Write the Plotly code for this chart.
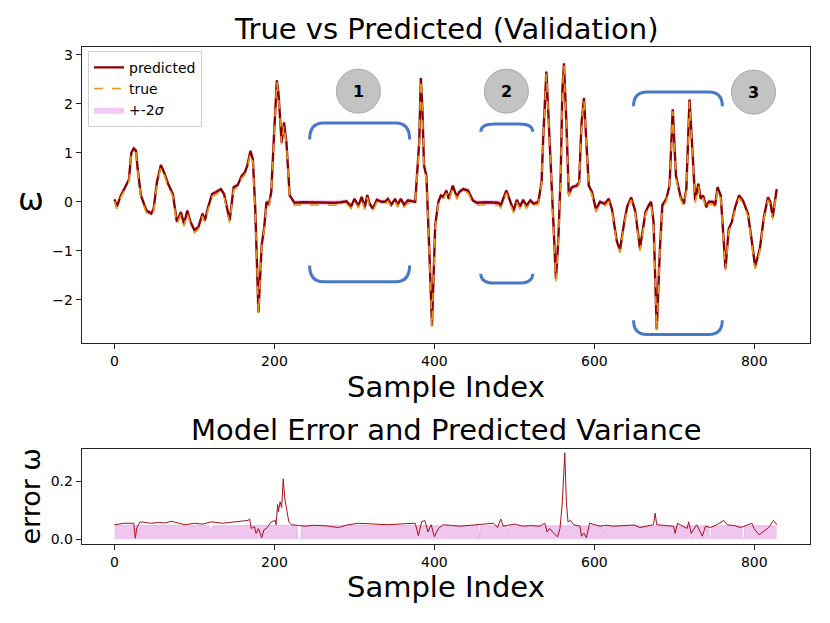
import plotly.graph_objects as go

# ---- data ----
# top panel: predicted / true angular rate vs sample index
S_PRED = [0, 3, 8, 15, 18, 21, 24, 27, 29, 33,
          40, 46, 49, 53, 58, 62, 67, 73, 78, 83,
          87, 91, 95, 100, 105, 110, 113, 117, 122, 127,
          133, 137, 144, 149, 154, 159, 163, 166, 170, 173,
          176, 180, 184, 187, 190, 193, 196, 199, 203, 205,
          209, 212, 215, 219, 225, 235, 260, 270, 276, 283,
          290, 296, 300, 305, 309, 313, 316, 319, 323, 328,
          334, 338, 342, 346, 351, 354, 358, 362, 367, 376,
          379, 381, 383, 385, 387, 390, 394, 397, 401, 405,
          408, 411, 415, 418, 423, 428, 431, 436, 442, 448,
          453, 465, 480, 483, 490, 495, 499, 503, 507, 511,
          515, 520, 524, 530, 534, 536, 540, 543, 547, 549,
          552, 555, 558, 560, 562, 565, 568, 572, 578, 581,
          584, 587, 590, 593, 597, 602, 607, 613, 618, 622,
          628, 632, 637, 641, 646, 651, 657, 664, 668, 671,
          674, 678, 682, 685, 690, 694, 698, 702, 708, 712,
          715, 719, 723, 726, 730, 733, 736, 740, 743, 748,
          751, 754, 758, 764, 768, 772, 776, 781, 786, 792,
          797, 801, 807, 812, 817, 820, 823, 826, 828]

W_PRED = [0.05, -0.10, 0.13, 0.37, 0.45, 1.00, 1.09, 1.04, 0.67, 0.13,
          -0.18, -0.24, -0.14, 0.40, 0.75, 0.60, 0.37, 0.16, -0.41, -0.21,
          -0.45, -0.18, -0.41, -0.58, -0.51, -0.24, -0.38, -0.11, 0.16, 0.20,
          0.26, 0.16, -0.38, 0.30, 0.34, 0.53, 0.60, 0.74, 1.04, 0.87,
          -0.14, -2.26, -0.89, -0.55, 0.00, -0.06, 0.20, 1.21, 2.48, 2.22,
          1.21, 1.62, 1.21, 0.13, -0.02, -0.01, -0.02, -0.01, -0.02, -0.01,
          0.01, -0.09, 0.06, -0.08, 0.10, -0.11, 0.14, -0.04, -0.14, 0.04,
          0.00, 0.00, 0.06, -0.06, 0.06, -0.06, 0.06, -0.06, 0.03, 0.00,
          0.67, 1.21, 2.53, 1.89, 0.74, 0.53, -1.16, -2.53, -0.48, 0.00,
          0.13, 0.10, 0.23, 0.06, 0.33, 0.10, 0.20, 0.26, 0.23, 0.03,
          -0.02, -0.01, -0.02, -0.07, 0.23, 0.00, -0.18, 0.04, -0.10, 0.04,
          -0.08, 0.03, -0.04, 0.00, 0.40, 1.28, 2.66, 1.62, 0.26, -0.68,
          -1.58, -0.75, 0.60, 2.29, 2.83, 1.62, 0.16, 0.30, 0.33, 0.40,
          1.62, 2.12, 1.28, 0.33, 0.20, -0.16, 0.00, -0.04, 0.06, -0.15,
          -0.80, -0.99, -0.45, -0.10, 0.09, -0.18, -0.95, -0.21, -0.07, 0.00,
          -0.41, -2.60, -0.95, -0.07, 0.06, 0.33, 1.89, 0.53, 0.09, -0.04,
          0.26, 2.09, 0.94, 0.03, 0.37, 0.06, 0.13, -0.11, 0.00, 0.00,
          -0.07, 0.30, 0.13, -1.36, -0.55, -0.41, -0.11, 0.13, 0.02, -0.24,
          -0.82, -1.32, -0.95, -0.31, 0.09, 0.00, -0.31, 0.00, 0.26]

W_TRUE = [0.01, -0.14, 0.09, 0.33, 0.41, 0.97, 1.05, 1.00, 0.62, 0.08,
          -0.23, -0.29, -0.19, 0.35, 0.71, 0.56, 0.32, 0.11, -0.46, -0.26,
          -0.50, -0.23, -0.46, -0.63, -0.56, -0.29, -0.43, -0.16, 0.11, 0.15,
          0.21, 0.11, -0.43, 0.25, 0.29, 0.48, 0.55, 0.69, 0.99, 0.82,
          -0.19, -2.30, -0.93, -0.60, -0.05, -0.11, 0.15, 1.17, 2.46, 2.18,
          1.17, 1.57, 1.16, 0.08, -0.07, -0.06, -0.07, -0.06, -0.07, -0.06,
          -0.04, -0.14, 0.01, -0.13, 0.05, -0.16, 0.09, -0.09, -0.19, -0.01,
          -0.05, -0.05, 0.01, -0.11, 0.01, -0.11, 0.01, -0.11, -0.02, -0.05,
          0.62, 1.17, 2.50, 1.85, 0.70, 0.48, -1.20, -2.57, -0.53, -0.05,
          0.08, 0.05, 0.18, 0.01, 0.28, 0.05, 0.15, 0.21, 0.18, -0.02,
          -0.07, -0.06, -0.07, -0.12, 0.18, -0.05, -0.23, -0.01, -0.15, -0.01,
          -0.13, -0.02, -0.09, -0.05, 0.35, 1.24, 2.62, 1.58, 0.21, -0.72,
          -1.62, -0.80, 0.55, 2.25, 2.78, 1.58, 0.11, 0.25, 0.28, 0.35,
          1.58, 2.08, 1.24, 0.28, 0.15, -0.21, -0.05, -0.09, 0.01, -0.20,
          -0.85, -1.04, -0.50, -0.15, 0.04, -0.23, -1.00, -0.26, -0.12, -0.05,
          -0.46, -2.64, -1.00, -0.12, 0.01, 0.28, 1.85, 0.48, 0.04, -0.09,
          0.21, 2.05, 0.90, -0.02, 0.32, 0.01, 0.08, -0.16, -0.05, -0.05,
          -0.12, 0.25, 0.08, -1.40, -0.60, -0.46, -0.16, 0.08, -0.03, -0.29,
          -0.87, -1.37, -1.00, -0.36, 0.04, -0.05, -0.36, -0.05, 0.21]

TWO_SIGMA = 0.05  # half-width of the +-2sigma band around the prediction

# bottom panel: model error and predicted variance
S_ERR = [0, 12, 24, 26, 28, 32, 46, 55, 63, 71,
         88, 100, 110, 121, 135, 145, 154, 167, 169, 171,
         175, 177, 180, 184, 187, 190, 196, 201, 202, 204,
         205, 207, 209, 211, 213, 215, 218, 221, 238, 250,
         265, 280, 292, 305, 320, 330, 342, 360, 376, 380,
         384, 388, 392, 396, 400, 405, 411, 420, 432, 445,
         457, 474, 479, 483, 486, 495, 500, 511, 520, 532,
         538, 541, 544, 551, 554, 557, 560, 563, 565, 567,
         570, 574, 582, 584, 587, 590, 594, 607, 615, 624,
         640, 650, 657, 674, 676, 678, 690, 699, 701, 704,
         716, 718, 721, 728, 735, 739, 745, 752, 762, 766,
         775, 783, 797, 800, 806, 811, 818, 824, 828]
ERR = [0.050, 0.055, 0.055, 0.003, 0.040, 0.060, 0.055, 0.058, 0.056, 0.062,
       0.050, 0.055, 0.052, 0.060, 0.055, 0.058, 0.060, 0.065, 0.070, 0.037,
       0.043, 0.020, 0.037, 0.005, 0.033, 0.037, 0.060, 0.065, 0.050, 0.120,
       0.095, 0.130, 0.110, 0.210, 0.140, 0.110, 0.060, 0.050, 0.045, 0.048,
       0.046, 0.040, 0.050, 0.055, 0.052, 0.050, 0.050, 0.053, 0.055, 0.012,
       0.060, 0.065, 0.025, 0.050, 0.008, 0.037, 0.050, 0.048, 0.045, 0.048,
       0.050, 0.055, 0.040, 0.070, 0.045, 0.048, 0.052, 0.045, 0.047, 0.045,
       0.055, 0.025, 0.037, 0.015, 0.008, 0.037, 0.130, 0.300, 0.130, 0.060,
       0.065, 0.050, 0.045, 0.010, 0.020, 0.005, 0.055, 0.045, 0.048, 0.045,
       0.046, 0.049, 0.040, 0.050, 0.090, 0.050, 0.047, 0.045, 0.020, 0.055,
       0.037, 0.060, 0.020, 0.050, 0.010, 0.045, 0.040, 0.048, 0.065, 0.050,
       0.047, 0.040, 0.055, 0.035, 0.015, 0.025, 0.040, 0.065, 0.050]

S_VAR = [0, 118, 120, 123, 228, 229, 233, 234, 455, 456,
         458, 490, 492, 494, 610, 612, 614, 743, 744, 746,
         747, 784, 785, 787, 788, 828]
VAR = [0.048, 0.048, 0.030, 0.046, 0.048, 0.0, 0.0, 0.048, 0.046, 0.005,
       0.046, 0.046, 0.030, 0.046, 0.046, 0.025, 0.046, 0.046, 0.0, 0.0,
       0.046, 0.046, 0.0, 0.0, 0.046, 0.046]

X_TICKS = [0, 200, 400, 600, 800]

# annotation badges (number, x, y) and bracket spans (x_left, x_right, top, top_end, bottom, bottom_end)
BADGES = [("1", 305, 2.26), ("2", 490, 2.26), ("3", 799, 2.24)]
BRACKETS = [(244, 369, 1.61, 1.27, -1.63, -1.30),
            (458, 523, 1.59, 1.43, -1.66, -1.47),
            (649, 760, 2.24, 1.95, -2.71, -2.42)]

FONT = "DejaVu Sans"
PRED_COLOR = "#8b0000"
TRUE_COLOR = "#e8961c"
BAND_COLOR = "rgba(222,120,222,0.40)"

fig = go.Figure()

# +-2 sigma band
upper = [w + TWO_SIGMA for w in W_PRED]
lower = [w - TWO_SIGMA for w in W_PRED]
fig.add_trace(go.Scatter(x=S_PRED, y=lower, mode="lines", line=dict(width=0),
                         showlegend=False, hoverinfo="skip", xaxis="x", yaxis="y"))
fig.add_trace(go.Scatter(x=S_PRED, y=upper, mode="lines", line=dict(width=0),
                         fill="tonexty", fillcolor=BAND_COLOR, name="+-2<i>σ</i>",
                         legendrank=3, xaxis="x", yaxis="y"))

fig.add_trace(go.Scatter(x=S_PRED, y=W_PRED, mode="lines", name="predicted",
                         line=dict(color=PRED_COLOR, width=2.4), legendrank=1,
                         xaxis="x", yaxis="y"))
fig.add_trace(go.Scatter(x=S_PRED, y=W_TRUE, mode="lines", name="true",
                         line=dict(color=TRUE_COLOR, width=1.6, dash="dash"),
                         legendrank=2, xaxis="x", yaxis="y"))

# bottom panel
fig.add_trace(go.Scatter(x=S_VAR, y=VAR, mode="lines", line=dict(width=0.6, color="rgba(222,150,222,0.9)"),
                         fill="tozeroy", fillcolor="rgba(228,160,228,0.6)",
                         showlegend=False, xaxis="x2", yaxis="y2"))
fig.add_trace(go.Scatter(x=S_ERR, y=ERR, mode="lines", line=dict(color="#a3131b", width=1),
                         showlegend=False, xaxis="x2", yaxis="y2"))

# brackets
shapes = []
for xl, xr, top, top_end, bot, bot_end in BRACKETS:
    dx = 17
    for yline, yend in ((top, top_end), (bot, bot_end)):
        path = (f"M {xl},{yend} Q {xl},{yline} {xl + dx},{yline} "
                f"L {xr - dx},{yline} Q {xr},{yline} {xr},{yend}")
        shapes.append(dict(type="path", path=path, xref="x", yref="y",
                           line=dict(color="#4a78c8", width=3)))

annotations = []
for label, bx, by in BADGES:
    shapes.append(dict(type="circle", xref="x", yref="y", xsizemode="pixel", ysizemode="pixel",
                       xanchor=bx, yanchor=by, x0=-22, x1=22, y0=-22, y1=22,
                       fillcolor="#c3c3c3", line=dict(color="#a8a8a8", width=1)))
    annotations.append(dict(x=bx, y=by, xref="x", yref="y", text=f"<b>{label}</b>",
                            showarrow=False, font=dict(family=FONT, size=16, color="black")))

# titles and axis labels as text
def label(text, x, y, size, angle=0):
    annotations.append(dict(x=x / 830, y=1 - y / 623, xref="paper", yref="paper", text=text,
                            showarrow=False, textangle=angle, xanchor="center", yanchor="middle",
                            font=dict(family=FONT, size=size, color="black")))

label("True vs Predicted (Validation)", 446, 29, 29)
label("Sample Index", 446, 389, 29)
label("ω", 31, 200, 31)
label("Model Error and Predicted Variance", 446, 432, 29)
label("Sample Index", 446, 590, 29)
label("error ω", 31, 499, 27, angle=-90)

axis_common = dict(showline=True, linecolor="#222", linewidth=1, mirror=True, ticks="outside",
                   ticklen=5, tickcolor="#222", showgrid=False, zeroline=False,
                   tickfont=dict(family=FONT, size=14, color="black"))

fig.update_layout(
    width=830, height=623,
    margin=dict(l=0, r=0, t=0, b=0),
    paper_bgcolor="white", plot_bgcolor="white",
    font=dict(family=FONT, color="black"),
    xaxis=dict(domain=[81.7 / 830, 809.5 / 830], range=[-41, 869], tickvals=X_TICKS,
               anchor="y", **axis_common),
    yaxis=dict(domain=[1 - 345 / 623, 1 - 47.3 / 623], range=[-2.89, 3.16],
               tickvals=[-2, -1, 0, 1, 2, 3], anchor="x", **axis_common),
    xaxis2=dict(domain=[81.7 / 830, 809.5 / 830], range=[-41, 869], tickvals=X_TICKS,
                anchor="y2", **axis_common),
    yaxis2=dict(domain=[1 - 546.7 / 623, 1 - 450.7 / 623], range=[-0.0173, 0.315],
                tickvals=[0.0, 0.2], tickformat=".1f", anchor="x2", **axis_common),
    legend=dict(x=88 / 830, y=1 - 51 / 623, xanchor="left", yanchor="top", traceorder="normal",
                bgcolor="rgba(255,255,255,0.85)", bordercolor="#d0d0d0", borderwidth=1,
                font=dict(family=FONT, size=14, color="black"), tracegroupgap=0),
    shapes=shapes,
    annotations=annotations,
)

fig.write_html("out.html", config={"displayModeBar": False},
               post_script="document.body.style.margin='0px';")
